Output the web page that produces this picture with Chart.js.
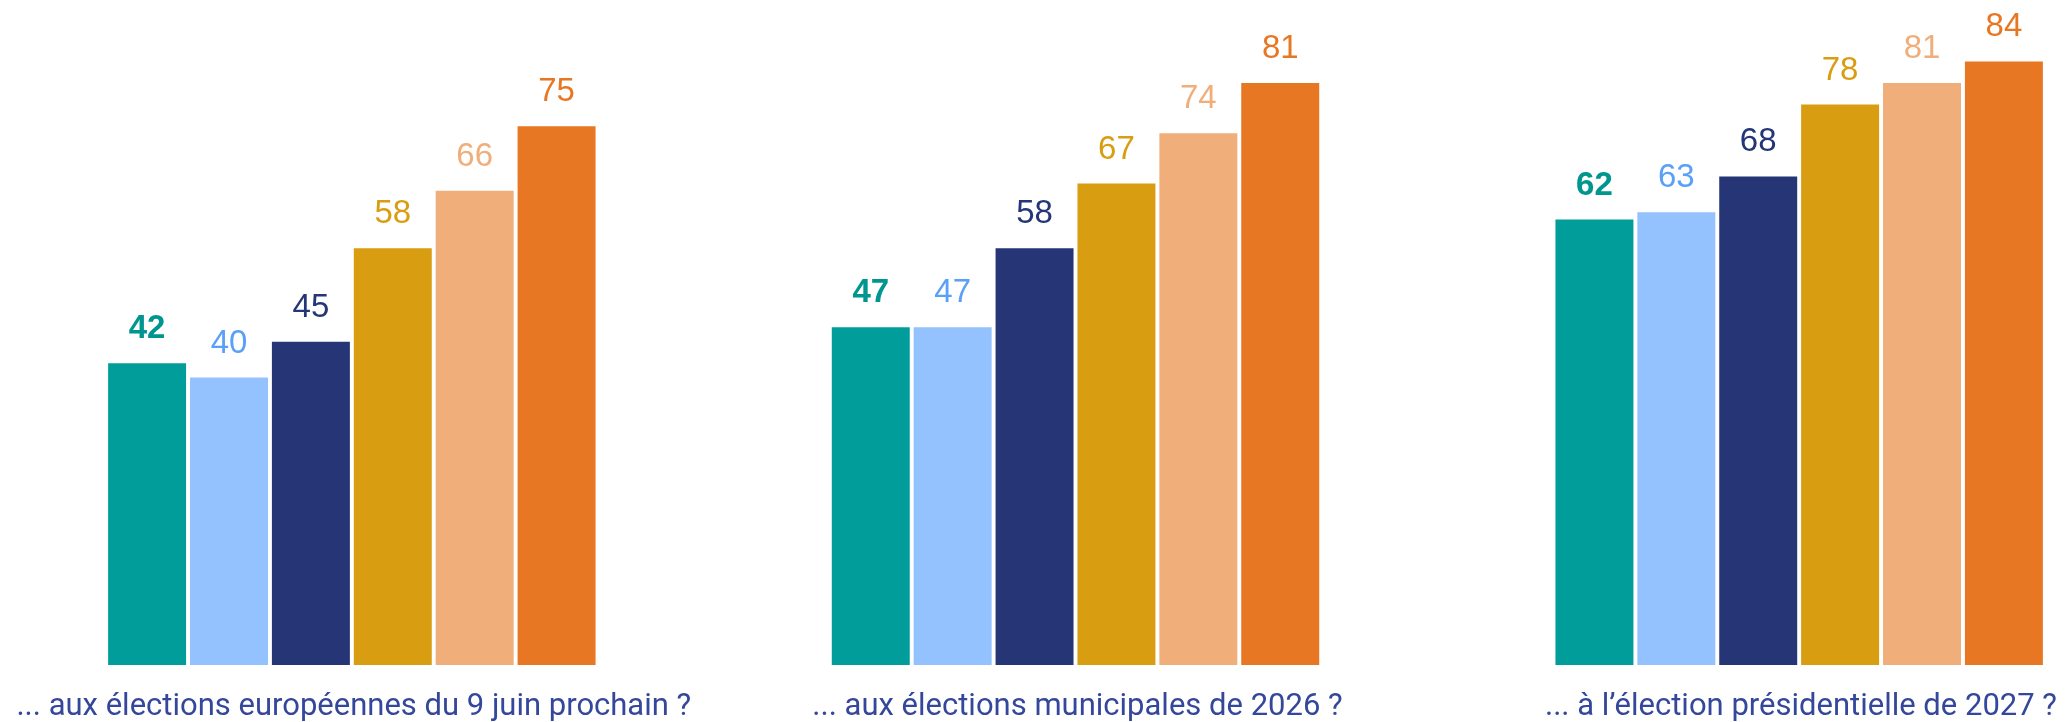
<!DOCTYPE html>
<html lang="fr">
<head>
<meta charset="utf-8">
<title>Élections</title>
<script src="https://cdn.jsdelivr.net/npm/chart.js@4/dist/chart.umd.min.js"></script>
<style>
  html, body { margin: 0; padding: 0; background: #fff; overflow: hidden; }
  #wrap { position: absolute; left: -10px; top: 0; width: 2171px; height: 722px; }
</style>
</head>
<body>
<div id="wrap"><canvas id="chart"></canvas></div>
<script>
const categories = [
  "... aux élections européennes du 9 juin prochain ?",
  "... aux élections municipales de 2026 ?",
  "... à l’élection présidentielle de 2027 ?"
];
const serie1 = [42, 47, 62];
const serie2 = [40, 47, 63];
const serie3 = [45, 58, 68];
const serie4 = [58, 67, 78];
const serie5 = [66, 74, 81];
const serie6 = [75, 81, 84];

const barColors   = ["#009d9a", "#93c2ff", "#253575", "#d99d12", "#f0ae7b", "#e77723"];
const labelColors = ["#009690", "#5aa0f8", "#253575", "#d99d12", "#f0ae7b", "#e77723"];
const allSeries = [serie1, serie2, serie3, serie4, serie5, serie6];

/* ---------- value labels above bars ---------- */
const valueLabels = {
  id: "valueLabels",
  afterDatasetsDraw(chart) {
    const c = chart.ctx;
    c.save();
    c.textAlign = "center";
    c.textBaseline = "alphabetic";
    chart.data.datasets.forEach((ds, i) => {
      const meta = chart.getDatasetMeta(i);
      c.font = (i === 0 ? "bold " : "") + "33px 'Liberation Sans', Arial, sans-serif";
      c.fillStyle = labelColors[i];
      meta.data.forEach((bar, j) => {
        c.fillText(String(ds.data[j]), bar.x, bar.y - 25);
      });
    });
    c.restore();
  }
};

/* ---------- category labels under the groups ---------- */
const groupLabels = {
  id: "groupLabels",
  afterDraw(chart) {
    const c = chart.ctx;
    const x = chart.scales.x;
    const wrap = document.getElementById("wrap");
    // keep the last label inside the visible page
    const rightLimit = document.documentElement.clientWidth - wrap.offsetLeft - 14;
    c.save();
    c.font = "31px Roboto, 'Liberation Sans', sans-serif";
    c.fillStyle = "#34479b";
    c.textAlign = "left";
    c.textBaseline = "alphabetic";
    categories.forEach((t, i) => {
      const w = c.measureText(t).width;
      let left = x.getPixelForValue(i) + 2 - w / 2;
      if (left + w > rightLimit) left = rightLimit - w;
      c.fillText(t, left, 715);
    });
    c.restore();
  }
};

new Chart(document.getElementById("chart"), {
  type: "bar",
  data: {
    labels: categories,
    datasets: allSeries.map((d, i) => ({
      label: "Série " + (i + 1),
      data: d,
      backgroundColor: barColors[i],
      borderWidth: 0,
      barPercentage: 0.952,
      categoryPercentage: 0.679
    }))
  },
  options: {
    responsive: true,
    maintainAspectRatio: false,
    animation: false,
    layout: { padding: { top: 4, bottom: 57, left: 0, right: 0 } },
    plugins: { legend: { display: false }, tooltip: { enabled: false } },
    scales: {
      x: { display: false },
      y: { display: false, min: 0, max: 92 }
    }
  },
  plugins: [valueLabels, groupLabels]
});
</script>
</body>
</html>
